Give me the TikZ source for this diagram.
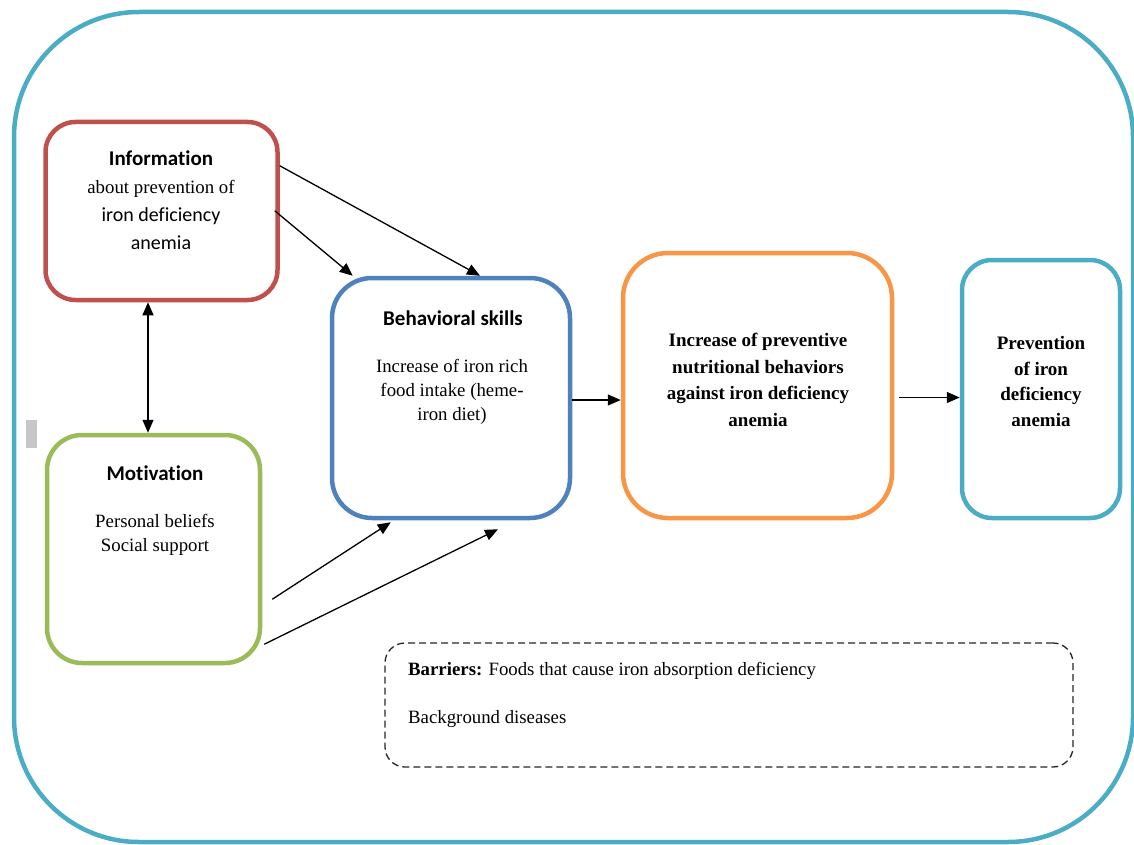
\documentclass[tikz,border=0pt]{standalone}
\usepackage{fontspec}
\setmainfont{Liberation Serif}
\newfontfamily\calibri{Carlito}[Ligatures=NoCommon]
\usepackage{xcolor}
\usetikzlibrary{arrows.meta,positioning,calc}
\definecolor{accred}{HTML}{C0504D}
\definecolor{accblue}{HTML}{4F81BD}
\definecolor{accgreen}{HTML}{9BBB59}
\definecolor{accorange}{HTML}{F79646}
\definecolor{accaqua}{HTML}{4BACC6}

\begin{document}
\begin{tikzpicture}[x=1pt, y=-1pt,
  box/.style={rectangle, rounded corners=#1, line width=4.5pt,
    inner sep=0pt},
  txt/.style={align=center, inner sep=0pt, anchor=north,
    font=\fontsize{18.8}{24}\selectfont},
  ttl/.style={txt, font=\fontsize{21}{24}\selectfont\calibri\bfseries},
  bld/.style={txt, font=\fontsize{19}{26.6}\selectfont\bfseries},
  arr/.style={-{Triangle[length=13pt,width=11pt]}, line width=1.3pt}
]
\useasboundingbox (0,0) rectangle (1134,845);
% Outer frame
\draw[line width=4.5pt, accaqua, rounded corners=125pt] (14,12) rectangle (1133,842);
\fill[black!22] (26,420) rectangle (37,448);
% Left: information and motivation
\node[box=30pt, draw=accred, minimum width=232pt, minimum height=178pt] (info) at (161.5,211) {};
\node[txt, font=\fontsize{18.8}{27.8}\selectfont] (infotxt) at (161,151) {
  {\fontsize{21}{27.8}\selectfont\calibri\bfseries Information}\\
  about prevention of\\
  {\fontsize{20}{27.8}\selectfont\calibri iron deficiency}\\
  {\fontsize{20}{27.8}\selectfont\calibri anemia}};
\node[box=35pt, draw=accgreen, minimum width=213pt, minimum height=228pt] (mot) at (153.5,549) {};
\node[ttl] (mottitle) at (155,466) {Motivation};
\node[txt] (mottxt) at (155,514) {Personal beliefs\\ Social support};
% Middle: behavioral skills
\node[box=40pt, draw=accblue, minimum width=238pt, minimum height=240pt] (bhv) at (451,398) {};
\node[ttl] (bhvtitle) at (453,311) {Behavioral skills};
\node[txt] (bhvtxt) at (452,359) {Increase of iron rich\\ food intake (heme-\\ iron diet)};
% Right: outcomes
\node[box=45pt, draw=accorange, minimum width=269pt, minimum height=265pt] (inc) at (757.5,385.5) {};
\node[bld] (inctxt) at (758,333) {
  Increase of preventive\\ nutritional behaviors\\ against iron deficiency\\ anemia};
\node[box=30pt, draw=accaqua, minimum width=158pt, minimum height=258pt] (prev) at (1041,389) {};
\node[bld, font=\fontsize{19}{25.7}\selectfont\bfseries] (prevtxt) at (1041,336) {
  Prevention\\ of iron\\ deficiency\\ anemia};
% Barriers
\node[box=20pt, draw=black!85, line width=1.3pt, dash pattern=on 7pt off 4pt,
  minimum width=688pt, minimum height=124pt] (bar) at (729,705) {};
\node[txt, anchor=north west, align=left] (bartxt) at (408,662) {
  \textbf{Barriers:} Foods that cause iron absorption deficiency\\[24pt]
  Background diseases};
% Connectors
\draw[arr] ($(info.north east)+(-5,91)$) -- ($(bhv.north west)+(23,0)$);
\draw[arr] ($(info.north east)+(0,46)$) -- ($(bhv.north)+(29,0)$);
\draw[arr, {Triangle[length=13pt,width=11pt]}-{Triangle[length=13pt,width=11pt]}]
  ($(info.south)+(-13.5,0)$) -- ($(mot.north)+(-5.5,0)$);
\draw[arr] ($(mot.south east)+(10,-66)$) -- ($(bhv.south west)+(61,2)$);
\draw[arr] ($(mot.south east)+(2,-21)$) -- ($(bhv.south)+(47,9)$);
\draw[arr] ($(bhv.east)+(0,2)$) -- ($(bhv.east -| inc.west)+(0,2)$);
\draw[arr] ($(inc.east)+(5,12)$) -- ($(inc.east -| prev.west)+(0,12)$);
\end{tikzpicture}
\end{document}
